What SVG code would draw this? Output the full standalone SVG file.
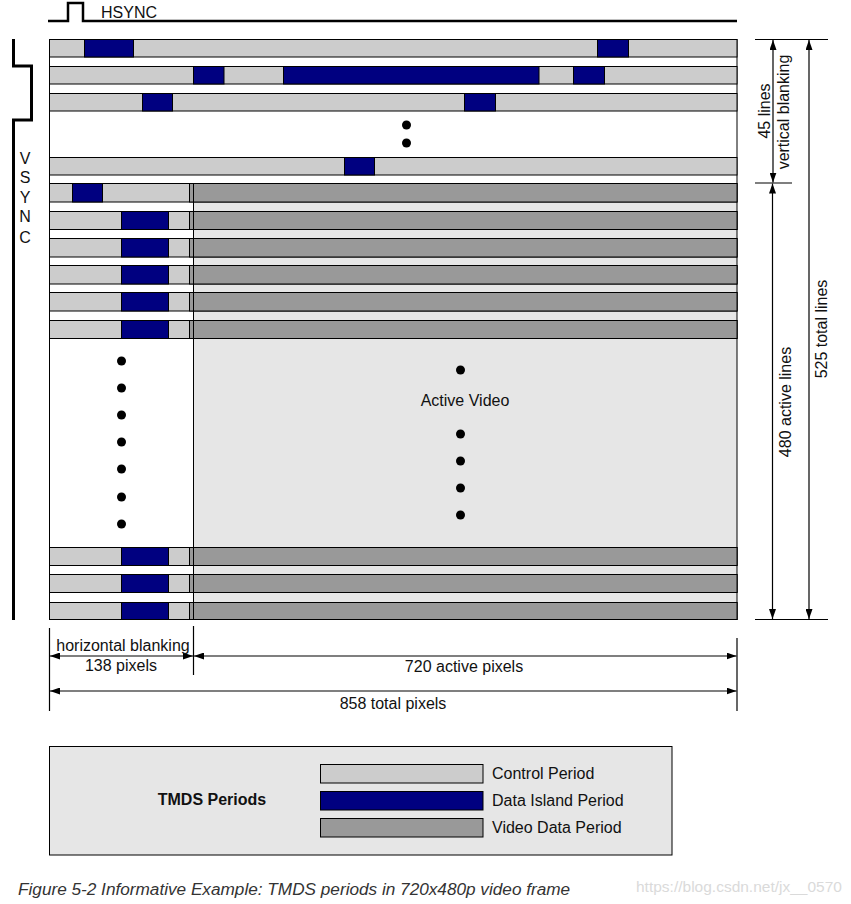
<svg xmlns="http://www.w3.org/2000/svg" width="851" height="904" viewBox="0 0 851 904">
<style>
.cp{fill:#cccccc;stroke:#000;stroke-width:1}
.di{fill:#000080;stroke:#000;stroke-width:1}
.vd{fill:#999999;stroke:#000;stroke-width:1}
.t{font-family:"Liberation Sans",Arial,sans-serif;font-size:16px;fill:#111}
.dim{stroke:#000;stroke-width:1.2;fill:none}
.arr{marker-start:url(#ah);marker-end:url(#ah)}
.sig{stroke:#000;fill:none}
.dot{fill:#000}
</style>
<defs>
<marker id="ah" viewBox="0 0 10 7" refX="10" refY="3.5" markerWidth="10" markerHeight="7" markerUnits="userSpaceOnUse" orient="auto-start-reverse"><path d="M0,0 L10,3.5 L0,7 z" fill="#000"/></marker>
</defs>
<rect width="851" height="904" fill="#fff"/>

<g id="hsync">
<path class="sig" stroke-width="2.5" d="M48,21 H68 V3 H83 V21 H737"/>
<text class="t" x="101" y="18">HSYNC</text>
</g>

<g id="vsync">
<path class="sig" stroke-width="3" d="M13.5,39 V66 H31.5 V120 H13.5 V620"/>
<text class="t" x="25" y="164" text-anchor="middle">V</text>
<text class="t" x="25" y="183" text-anchor="middle">S</text>
<text class="t" x="25" y="203" text-anchor="middle">Y</text>
<text class="t" x="25" y="222" text-anchor="middle">N</text>
<text class="t" x="25" y="243" text-anchor="middle">C</text>
</g>

<g id="frame">
<rect x="193.5" y="202" width="543.5" height="417" fill="#e6e6e6"/>
<line x1="193.5" y1="183.5" x2="193.5" y2="619.5" stroke="#000" stroke-width="1"/>
<rect x="49.5" y="39.5" width="687.5" height="580" fill="none" stroke="#000" stroke-width="1"/>
</g>

<g id="vblank-line-1">
<rect class="cp" x="49.5" y="39.5" width="687.5" height="17.5"/>
<rect class="di" x="84.5" y="39.5" width="49" height="17.5"/>
<rect class="di" x="597.5" y="39.5" width="31" height="17.5"/>
</g>
<g id="vblank-line-2">
<rect class="cp" x="49.5" y="66.5" width="687.5" height="17.5"/>
<rect class="di" x="193.5" y="66.5" width="30.5" height="17.5"/>
<rect class="di" x="283.5" y="66.5" width="255.5" height="17.5"/>
<rect class="di" x="573.5" y="66.5" width="31" height="17.5"/>
</g>
<g id="vblank-line-3">
<rect class="cp" x="49.5" y="93.5" width="687.5" height="17.5"/>
<rect class="di" x="142.5" y="93.5" width="30" height="17.5"/>
<rect class="di" x="464.5" y="93.5" width="31" height="17.5"/>
</g>
<g id="vblank-dots">
<circle class="dot" cx="406.5" cy="125" r="4.5"/>
<circle class="dot" cx="406.5" cy="143" r="4.5"/>
</g>
<g id="vblank-line-45">
<rect class="cp" x="49.5" y="157.5" width="687.5" height="17.5"/>
<rect class="di" x="344.5" y="157.5" width="30" height="17.5"/>
</g>

<g id="active-line-1">
<rect class="cp" x="49.5" y="183.5" width="687.5" height="18.5"/>
<rect class="di" x="72.5" y="183.5" width="30" height="18.5"/>
<rect class="vd" x="189.5" y="183.5" width="4" height="18.5"/>
<rect class="vd" x="193.5" y="183.5" width="543.5" height="18.5"/>
</g>
<g id="active-line-2">
<rect class="cp" x="49.5" y="211.5" width="687.5" height="18"/>
<rect class="di" x="121.5" y="211.5" width="47" height="18"/>
<rect class="vd" x="189.5" y="211.5" width="4" height="18"/>
<rect class="vd" x="193.5" y="211.5" width="543.5" height="18"/>
</g>
<g id="active-line-3">
<rect class="cp" x="49.5" y="238.5" width="687.5" height="18.5"/>
<rect class="di" x="121.5" y="238.5" width="47" height="18.5"/>
<rect class="vd" x="189.5" y="238.5" width="4" height="18.5"/>
<rect class="vd" x="193.5" y="238.5" width="543.5" height="18.5"/>
</g>
<g id="active-line-4">
<rect class="cp" x="49.5" y="265.5" width="687.5" height="18.5"/>
<rect class="di" x="121.5" y="265.5" width="47" height="18.5"/>
<rect class="vd" x="189.5" y="265.5" width="4" height="18.5"/>
<rect class="vd" x="193.5" y="265.5" width="543.5" height="18.5"/>
</g>
<g id="active-line-5">
<rect class="cp" x="49.5" y="292.5" width="687.5" height="18.5"/>
<rect class="di" x="121.5" y="292.5" width="47" height="18.5"/>
<rect class="vd" x="189.5" y="292.5" width="4" height="18.5"/>
<rect class="vd" x="193.5" y="292.5" width="543.5" height="18.5"/>
</g>
<g id="active-line-6">
<rect class="cp" x="49.5" y="320.5" width="687.5" height="18"/>
<rect class="di" x="121.5" y="320.5" width="47" height="18"/>
<rect class="vd" x="189.5" y="320.5" width="4" height="18"/>
<rect class="vd" x="193.5" y="320.5" width="543.5" height="18"/>
</g>

<g id="active-dots">
<circle class="dot" cx="121.5" cy="361" r="4.5"/>
<circle class="dot" cx="121.5" cy="388" r="4.5"/>
<circle class="dot" cx="121.5" cy="415" r="4.5"/>
<circle class="dot" cx="121.5" cy="442" r="4.5"/>
<circle class="dot" cx="121.5" cy="469" r="4.5"/>
<circle class="dot" cx="121.5" cy="497" r="4.5"/>
<circle class="dot" cx="121.5" cy="524" r="4.5"/>
<circle class="dot" cx="460.5" cy="370" r="4.5"/>
<circle class="dot" cx="460.5" cy="434" r="4.5"/>
<circle class="dot" cx="460.5" cy="461" r="4.5"/>
<circle class="dot" cx="460.5" cy="488" r="4.5"/>
<circle class="dot" cx="460.5" cy="515" r="4.5"/>
<text class="t" x="465" y="406" text-anchor="middle">Active Video</text>
</g>

<g id="active-line-478">
<rect class="cp" x="49.5" y="547.5" width="687.5" height="18"/>
<rect class="di" x="121.5" y="547.5" width="47" height="18"/>
<rect class="vd" x="189.5" y="547.5" width="4" height="18"/>
<rect class="vd" x="193.5" y="547.5" width="543.5" height="18"/>
</g>
<g id="active-line-479">
<rect class="cp" x="49.5" y="574.5" width="687.5" height="18"/>
<rect class="di" x="121.5" y="574.5" width="47" height="18"/>
<rect class="vd" x="189.5" y="574.5" width="4" height="18"/>
<rect class="vd" x="193.5" y="574.5" width="543.5" height="18"/>
</g>
<g id="active-line-480">
<rect class="cp" x="49.5" y="602.5" width="687.5" height="17"/>
<rect class="di" x="121.5" y="602.5" width="47" height="17"/>
<rect class="vd" x="189.5" y="602.5" width="4" height="17"/>
<rect class="vd" x="193.5" y="602.5" width="543.5" height="17"/>
</g>

<g id="connectors">
<line class="dim" x1="755" y1="39.5" x2="828" y2="39.5"/>
<line class="dim" x1="755" y1="183" x2="792" y2="183"/>
<line class="dim" x1="755" y1="619.5" x2="828" y2="619.5"/>
<line class="dim arr" x1="773" y1="40" x2="773" y2="182.5"/>
<line class="dim arr" x1="772.5" y1="183.5" x2="772.5" y2="619"/>
<line class="dim arr" x1="809" y1="40" x2="809" y2="619"/>
<line class="dim" x1="49.5" y1="628" x2="49.5" y2="711"/>
<line class="dim" x1="193.5" y1="626" x2="193.5" y2="675"/>
<line class="dim" x1="737" y1="638" x2="737" y2="711"/>
<line class="dim arr" x1="50" y1="656" x2="193" y2="656"/>
<line class="dim arr" x1="194" y1="656" x2="736.5" y2="656"/>
<line class="dim arr" x1="50" y1="691" x2="736.5" y2="691"/>
</g>

<g id="dim-labels">
<text class="t" transform="translate(769.5,111) rotate(-90)" text-anchor="middle">45 lines</text>
<text class="t" transform="translate(788.5,112) rotate(-90)" text-anchor="middle">vertical blanking</text>
<text class="t" transform="translate(790.5,402) rotate(-90)" text-anchor="middle">480 active lines</text>
<text class="t" transform="translate(827,329) rotate(-90)" text-anchor="middle">525 total lines</text>
<text class="t" x="123" y="651" text-anchor="middle">horizontal blanking</text>
<text class="t" x="121" y="671" text-anchor="middle">138 pixels</text>
<text class="t" x="464" y="672" text-anchor="middle">720 active pixels</text>
<text class="t" x="393" y="709" text-anchor="middle">858 total pixels</text>
</g>

<g id="legend">
<rect x="49.5" y="746.5" width="622.5" height="108.5" fill="#e6e6e6" stroke="#000" stroke-width="1"/>
<text class="t" x="212" y="805" text-anchor="middle" style="font-weight:bold">TMDS Periods</text>
<rect class="cp" x="320.5" y="764.5" width="162.5" height="18.5"/>
<rect class="di" x="320.5" y="791.5" width="162.5" height="18.5"/>
<rect class="vd" x="320.5" y="818.5" width="162.5" height="18.5"/>
<text class="t" x="492" y="779">Control Period</text>
<text class="t" x="492" y="806">Data Island Period</text>
<text class="t" x="492" y="833">Video Data Period</text>
</g>

<text class="t" x="18" y="895" style="font-size:17.2px;font-style:italic;fill:#333">Figure 5-2 Informative Example: TMDS periods in 720x480p video frame</text>
<text x="636" y="892" style="font-family:'Liberation Sans',Arial,sans-serif;font-size:15.5px;fill:#dadada">https://blog.csdn.net/jx__0570</text>
</svg>
